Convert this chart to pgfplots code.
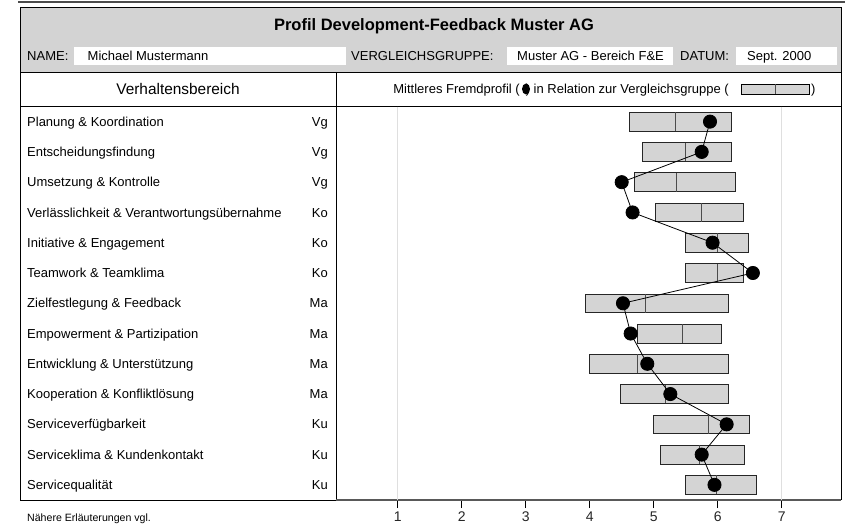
\documentclass[border=0pt]{standalone}
\usepackage{pgfplots}
\pgfplotsset{compat=1.18}
\usepgfplotslibrary{statistics}
\usepackage{fontspec}
\setmainfont{Liberation Sans}
\definecolor{hdr}{RGB}{211,211,211}
\definecolor{boxfill}{RGB}{212,212,212}
\newcommand{\bx}[4]{\addplot[boxplot prepared={draw position=#1, lower whisker=#2, lower quartile=#2, median=#3, upper quartile=#4, upper whisker=#4}] coordinates {};}
\begin{document}
\begin{tikzpicture}
\useasboundingbox (0pt,0pt) rectangle (845pt,-524pt);
% header background
\fill[hdr] (20pt,-7.5pt) rectangle (841pt,-72.5pt);
\draw[gray!60!black, line width=2pt] (18pt,-2.5pt) -- (845pt,-2.5pt);
\fill[white] (74pt,-47pt) rectangle (346pt,-65.5pt);
\fill[white] (506.5pt,-47pt) rectangle (672.5pt,-65.5pt);
\fill[white] (735.5pt,-47pt) rectangle (836.5pt,-65.5pt);
% frame
\draw[black, line width=0.8pt] (20pt,-500pt) -- (20pt,-7.5pt) -- (841pt,-7.5pt) -- (841pt,-500pt);
\draw[black, line width=0.8pt] (20pt,-72.5pt) -- (841pt,-72.5pt);
\draw[black, line width=0.8pt] (20pt,-106.5pt) -- (841pt,-106.5pt);
\draw[black, line width=0.8pt] (336pt,-72.5pt) -- (336pt,-500pt);
\draw[black, line width=0.8pt] (20pt,-500pt) -- (336pt,-500pt);
% header texts
\node[anchor=base, inner sep=0] at (434pt,-30.5pt) {\fontsize{16.5}{18}\selectfont\bfseries Profil Development-Feedback Muster AG};
\begin{scope}[every node/.style={anchor=base west, inner sep=0, font=\fontsize{13}{15}\selectfont}]
\node at (27pt,-61pt) {NAME:};
\node at (87.5pt,-61pt) {Michael Mustermann};
\node at (351pt,-61pt) {VERGLEICHSGRUPPE:};
\node at (517pt,-61pt) {Muster AG - Bereich F\&E};
\node at (680pt,-61pt) {DATUM:};
\node at (747pt,-61pt) {Sept. 2000};
\node[anchor=base east] at (520pt,-93.5pt) {Mittleres Fremdprofil (};
\node[anchor=base east] at (729pt,-93.5pt) {) in Relation zur Vergleichsgruppe (};
\node at (811pt,-93.5pt) {)};
\end{scope}
\node[anchor=base, inner sep=0] at (178pt,-94.5pt) {\fontsize{15.4}{17}\selectfont Verhaltensbereich};
\fill[black] (526pt,-89pt) ellipse (4pt and 5.5pt);
\draw[black, fill=boxfill, line width=0.7pt] (741pt,-84.3pt) rectangle (809pt,-94.3pt);
\draw[black!70, line width=0.7pt] (775pt,-84.3pt) -- (775pt,-94.3pt);
% row labels
\foreach \lab/\code [count=\i] in {Planung \& Koordination/Vg, Entscheidungsfindung/Vg, Umsetzung \& Kontrolle/Vg, Verlässlichkeit \& Verantwortungsübernahme/Ko, Initiative \& Engagement/Ko, Teamwork \& Teamklima/Ko, Zielfestlegung \& Feedback/Ma, Empowerment \& Partizipation/Ma, Entwicklung \& Unterstützung/Ma, Kooperation \& Konfliktlösung/Ma, Serviceverfügbarkeit/Ku, Serviceklima \& Kundenkontakt/Ku, Servicequalität/Ku}{
  \pgfmathsetmacro\yy{-(106.5+30.27*(\i-0.5)+4.6)}
  \node[anchor=base west, inner sep=0, font=\fontsize{13}{15}\selectfont] at (27pt,\yy pt) {\lab};
  \node[anchor=base east, inner sep=0, font=\fontsize{13}{15}\selectfont] at (328pt,\yy pt) {\code};
}
\node[anchor=base west, inner sep=0, font=\fontsize{10.6}{12}\selectfont] at (27pt,-521pt) {Nähere Erläuterungen vgl.};
\begin{axis}[
  at={(336pt,-500pt)}, anchor=south west,
  width=505pt, height=393.5pt, scale only axis,
  xmin=0.036, xmax=7.927, ymin=0.5, ymax=13.5, y dir=reverse,
  clip=false,
  axis x line=bottom, axis y line=none,
  axis line style={-},
  x axis line style={draw=gray!70!black, line width=1.6pt},
  xtick={1,2,3,4,5,6,7}, ytick=\empty,
  tick align=outside, major tick length=8pt,
  x tick style={black, line width=0.6pt},
  xticklabel style={font=\fontsize{14}{14}\selectfont, text=black!85},
  /pgf/number format/assume math mode=true,
  extra x ticks={1,7}, extra x tick labels={},
  extra x tick style={grid=major, major grid style={gray!25, line width=0.9pt}, tick style={draw=none}},
  boxplot/draw direction=x,
  boxplot/box extend=0.62,
  boxplot/whisker extend=0,
  boxplot/every box/.style={draw=black!85, fill=boxfill, line width=0.7pt},
  boxplot/every median/.style={draw=black!70, line width=0.7pt},
  boxplot/every whisker/.style={draw=none},
]
\bx{1}{4.62}{5.34}{6.22}
\bx{2}{4.82}{5.50}{6.22}
\bx{3}{4.70}{5.36}{6.27}
\bx{4}{5.02}{5.75}{6.40}
\bx{5}{5.49}{5.99}{6.48}
\bx{6}{5.49}{6.00}{6.40}
\bx{7}{3.93}{4.87}{6.16}
\bx{8}{4.74}{5.44}{6.06}
\bx{9}{3.99}{4.74}{6.16}
\bx{10}{4.48}{5.18}{6.16}
\bx{11}{4.99}{5.86}{6.49}
\bx{12}{5.11}{5.71}{6.42}
\bx{13}{5.50}{5.98}{6.60}
\addplot[black, line width=0.8pt, mark=*, mark size=6.6pt, mark options={fill=black, solid}] coordinates {
(5.88,1) (5.75,2) (4.50,3) (4.67,4) (5.92,5) (6.55,6) (4.52,7) (4.64,8) (4.90,9) (5.26,10) (6.14,11) (5.75,12) (5.95,13)};
\end{axis}
\end{tikzpicture}
\end{document}
